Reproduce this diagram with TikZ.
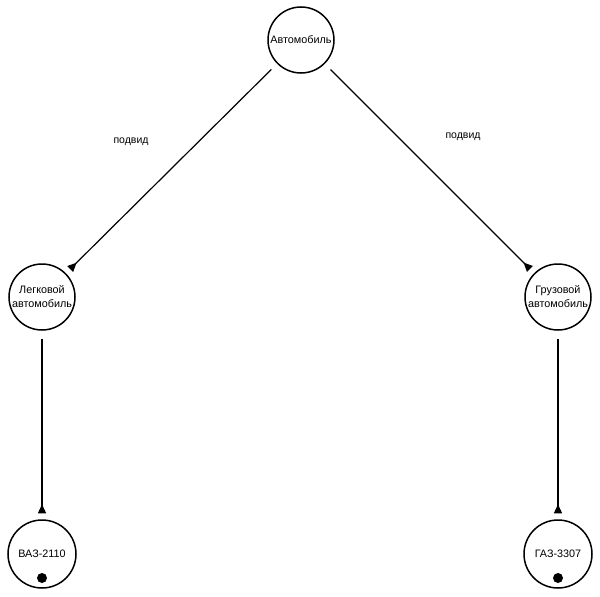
\documentclass[tikz,border=0pt]{standalone}
\usepackage{fontspec}
\setmainfont{Liberation Sans}
\usetikzlibrary{arrows.meta}

\begin{document}
\begin{tikzpicture}[%
  x=1pt, y=-1pt,
  conceptStyle/.style={draw, circle, line width=1.5pt, minimum size=66pt,
    inner sep=0pt, align=center, font=\fontsize{10.8}{14}\selectfont},
  linkStyle/.style={-{Triangle[reversed,length=9pt,width=8pt]},
    line width=1.2pt, shorten <=8pt, shorten >=6pt},
  labelStyle/.style={font=\fontsize{10.5}{12}\selectfont}
]
%
\pgfmathsetmacro{\dotShift}{24}  % Offset of the dot below the centre.
\useasboundingbox (0,0) rectangle (600,597);
%
% The concepts.
\node[conceptStyle] (car) at (301,40) {Автомобиль};
\node[conceptStyle] (passenger) at (42,297) {Легковой\\автомобиль};
\node[conceptStyle] (truck) at (558,297) {Грузовой\\автомобиль};
\node[conceptStyle, minimum size=68pt] (vaz) at (42,554) {ВАЗ-2110};
\node[conceptStyle, minimum size=68pt] (gaz) at (558,554) {ГАЗ-3307};
%
% The instances carry a dot.
\fill ([yshift=-\dotShift pt]vaz.center) circle (5pt);
\fill ([yshift=-\dotShift pt]gaz.center) circle (5pt);
%
% The links.
\draw[linkStyle] (car) -- (passenger);
\draw[linkStyle] (car) -- (truck);
\draw[linkStyle] (passenger) -- (vaz);
\draw[linkStyle] (truck) -- (gaz);
\node[labelStyle] (leftLabel) at (131,142) {подвид};
\node[labelStyle] (rightLabel) at (463,137) {подвид};
\end{tikzpicture}
\end{document}
